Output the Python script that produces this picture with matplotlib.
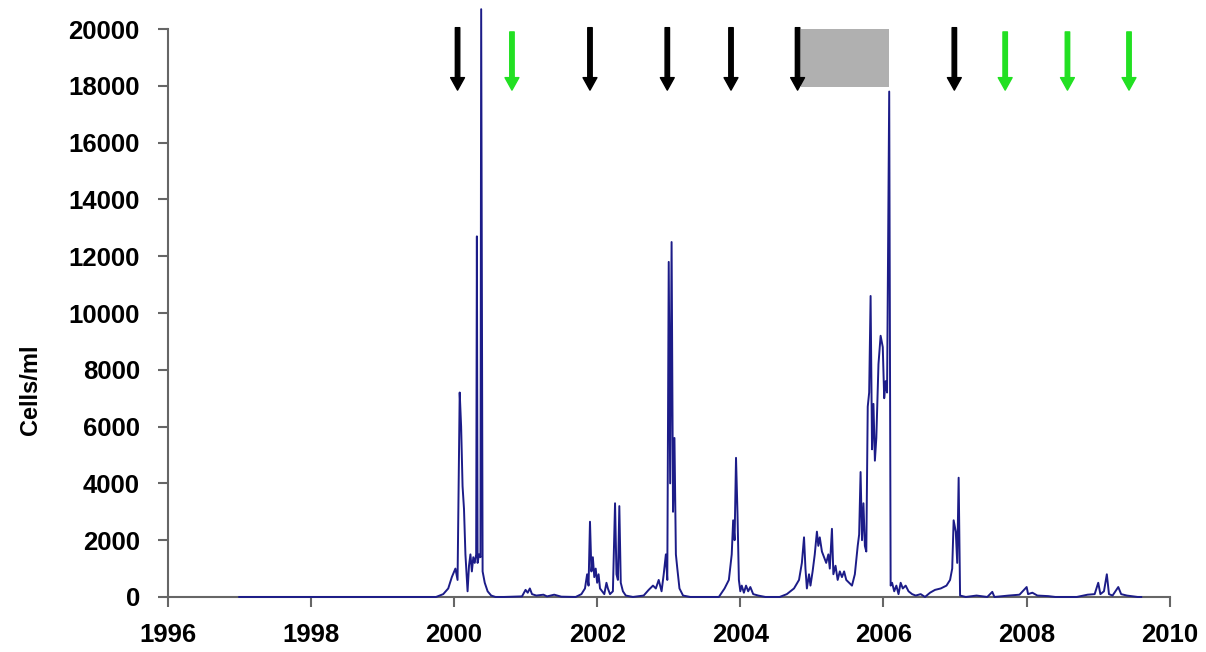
import matplotlib
matplotlib.use('Agg')
import matplotlib.pyplot as plt
from matplotlib.patches import Rectangle

plt.rcParams['font.family'] = ['Liberation Sans', 'DejaVu Sans']

# cell counts (decimal year, cells/ml)
years = [
    1997.00, 1999.75, 1999.85, 1999.92, 1999.97, 2000.02, 2000.05, 2000.08, 2000.10, 2000.12,
    2000.14, 2000.16, 2000.19, 2000.21, 2000.23, 2000.25, 2000.27, 2000.29, 2000.31, 2000.32,
    2000.33, 2000.35, 2000.37, 2000.38, 2000.40, 2000.43, 2000.47, 2000.52, 2000.58,
    2000.70, 2000.95, 2001.00, 2001.03, 2001.06, 2001.09, 2001.15, 2001.25, 2001.30, 2001.40,
    2001.50, 2001.70,
    2001.78, 2001.83, 2001.86, 2001.88, 2001.90, 2001.92, 2001.94, 2001.96, 2001.98, 2002.00,
    2002.02, 2002.04, 2002.07, 2002.10, 2002.13, 2002.15, 2002.18, 2002.22, 2002.25, 2002.27,
    2002.29, 2002.31, 2002.33, 2002.36, 2002.40, 2002.50, 2002.65, 2002.72, 2002.78, 2002.82,
    2002.86, 2002.90, 2002.93, 2002.96, 2002.98, 2003.00, 2003.02, 2003.04, 2003.06, 2003.08,
    2003.10, 2003.12, 2003.15, 2003.20, 2003.30, 2003.70, 2003.78, 2003.84, 2003.88, 2003.90,
    2003.92, 2003.94, 2003.96, 2003.98, 2004.00, 2004.02, 2004.05, 2004.08, 2004.11, 2004.14,
    2004.18, 2004.25, 2004.35, 2004.55,
    2004.65, 2004.75, 2004.82, 2004.86, 2004.89, 2004.91, 2004.93, 2004.96, 2004.98, 2005.01,
    2005.04, 2005.07, 2005.09, 2005.11, 2005.14, 2005.17, 2005.20, 2005.23, 2005.25, 2005.28,
    2005.30, 2005.33, 2005.36, 2005.39, 2005.42, 2005.45, 2005.48, 2005.52, 2005.56, 2005.60,
    2005.64, 2005.66, 2005.68, 2005.70, 2005.72, 2005.74, 2005.76, 2005.78, 2005.80, 2005.82,
    2005.84, 2005.86, 2005.88, 2005.90, 2005.93, 2005.96, 2005.99, 2006.01, 2006.03, 2006.05,
    2006.08, 2006.10,
    2006.12, 2006.15, 2006.18, 2006.21, 2006.24, 2006.27, 2006.31, 2006.35, 2006.40, 2006.45,
    2006.52, 2006.58, 2006.65, 2006.72, 2006.80, 2006.88, 2006.93, 2006.96, 2006.98, 2007.01,
    2007.03, 2007.05, 2007.07, 2007.15, 2007.30, 2007.45, 2007.52, 2007.55, 2007.75, 2007.90,
    2008.00, 2008.02, 2008.08, 2008.15, 2008.30, 2008.40, 2008.70, 2008.85, 2008.95, 2009.00,
    2009.03, 2009.08, 2009.12, 2009.15, 2009.20, 2009.28, 2009.32, 2009.40, 2009.55, 2009.60,
]
cells = [
    0, 0, 100, 300, 700, 1000, 600, 7200, 6000, 3900,
    3100, 1500, 200, 1100, 1500, 900, 1400, 1200, 1500, 12700,
    1200, 1500, 1400, 20700, 900, 500, 200, 50, 0,
    0, 20, 250, 150, 300, 100, 50, 80, 20, 80,
    10, 0,
    100, 300, 800, 400, 2650, 900, 1400, 700, 1000, 500,
    800, 300, 200, 100, 500, 300, 100, 200, 3300, 800,
    600, 3200, 500, 200, 50, 0, 50, 250, 400, 300,
    600, 200, 800, 1500, 600, 11800, 4000, 12500, 3000, 5600,
    1500, 1000, 300, 50, 0, 0, 300, 600, 1500, 2700,
    2000, 4900, 3000, 600, 200, 400, 150, 400, 200, 350,
    100, 50, 0, 0,
    100, 300, 600, 1200, 2100, 1000, 300, 800, 400, 900,
    1500, 2300, 1800, 2100, 1600, 1400, 1200, 1500, 1000, 2400,
    800, 1100, 600, 900, 700, 900, 600, 500, 400, 800,
    1800, 2200, 4400, 2000, 3300, 1800, 1600, 6700, 7200, 10600,
    5200, 6800, 4800, 5600, 8200, 9200, 8800, 7000, 7600, 7200,
    17800, 400,
    500, 200, 400, 100, 500, 300, 400, 200, 100, 50,
    100, 0, 150, 250, 300, 400, 600, 1000, 2700, 2300,
    1200, 4200, 50, 0, 50, 0, 180, 0, 50, 80,
    350, 100, 150, 50, 30, 0, 0, 80, 100, 500,
    100, 200, 800, 100, 50, 350, 100, 50, 0, 0,
]

# sampling events marked by arrows
black_arrows = [2000.05, 2001.90, 2002.98, 2003.87, 2004.80, 2006.99]
green_arrows = [2000.81, 2007.70, 2008.57, 2009.43]

# grey bar at the top
bar_start, bar_end = 2004.85, 2006.08
bar_low, bar_high = 17950, 20000

fig = plt.figure(figsize=(12.06, 6.52), dpi=100)
ax = fig.add_axes([0.139, 0.0844, 0.831, 0.871])

ax.add_patch(Rectangle((bar_start, bar_low), bar_end - bar_start, bar_high - bar_low,
                       facecolor='#b0b0b0', edgecolor='none', zorder=2))

ax.plot(years, cells, color='#1c1c88', lw=1.4, clip_on=False, zorder=3)

for x in black_arrows:
    ax.annotate('', xy=(x, 17850), xytext=(x, 20050),
                arrowprops=dict(width=3.2, headwidth=10, headlength=9,
                                color='black', shrink=0),
                annotation_clip=False, zorder=4)
for x in green_arrows:
    ax.annotate('', xy=(x, 17850), xytext=(x, 19900),
                arrowprops=dict(width=3.2, headwidth=10, headlength=9,
                                color='#22e022', shrink=0),
                annotation_clip=False, zorder=4)

ax.set_xlim(1996, 2010)
ax.set_ylim(0, 20000)
ax.set_xticks(range(1996, 2011, 2))
ax.set_yticks(range(0, 20001, 2000))

for s in ['top', 'right']:
    ax.spines[s].set_visible(False)
for s in ['left', 'bottom']:
    ax.spines[s].set_color('#666666')
    ax.spines[s].set_linewidth(1.5)
ax.tick_params(axis='both', direction='out', length=7, width=1.5, color='#666666',
               labelsize=18.5)
ax.tick_params(axis='y', pad=13)
ax.tick_params(axis='x', pad=12)
for lab in ax.get_xticklabels() + ax.get_yticklabels():
    lab.set_fontweight('bold')

fig.text(30 / 1206, 1 - 390 / 652, 'Cells/ml', rotation=90, fontsize=17,
         fontweight='bold', ha='center', va='center')

fig.savefig('out.png', dpi=100)
